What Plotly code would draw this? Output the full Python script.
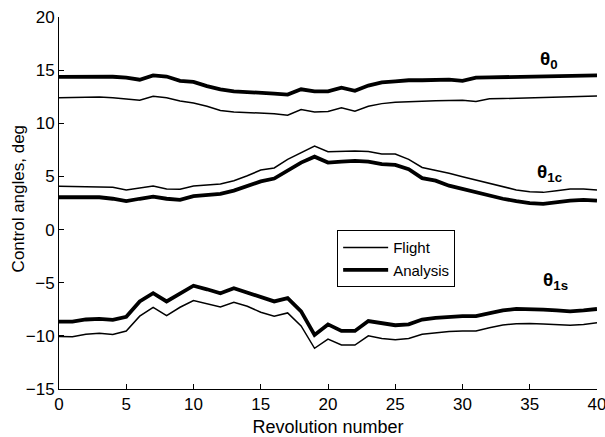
import plotly.graph_objects as go

rev = list(range(41))

theta0_flight = [12.41, 12.43, 12.46, 12.48, 12.4, 12.3, 12.16, 12.54, 12.4, 12.1, 11.9, 11.6, 11.2, 11.07,
                 11.03, 11.0, 10.9, 10.75, 11.3, 11.07, 11.1, 11.45, 11.13, 11.6, 11.85, 11.97, 12.03, 12.1,
                 12.12, 12.14, 12.16, 12.04, 12.3, 12.33, 12.36, 12.4, 12.44, 12.48, 12.51, 12.54, 12.57]
theta0_analysis = [14.36, 14.37, 14.38, 14.4, 14.38, 14.3, 14.1, 14.5, 14.4, 14.0, 13.9, 13.5, 13.2, 13.0,
                   12.95, 12.9, 12.8, 12.7, 13.2, 13.0, 13.0, 13.35, 13.05, 13.55, 13.85, 13.95, 14.05, 14.05,
                   14.05, 14.1, 14.0, 14.3, 14.32, 14.35, 14.37, 14.38, 14.4, 14.43, 14.45, 14.47, 14.5]

theta1c_flight = [4.07, 4.05, 4.05, 4.07, 3.98, 3.73, 3.9, 4.1, 3.82, 3.79, 4.1, 4.22, 4.28, 4.6,
                  5.06, 5.6, 5.8, 6.6, 7.2, 7.86, 7.33, 7.4, 7.4, 7.35, 7.1, 7.1, 6.6, 5.84,
                  5.6, 5.3, 4.97, 4.66, 4.28, 3.98, 3.73, 3.57, 3.5, 3.66, 3.82, 3.82, 3.73]
theta1c_analysis = [3.04, 3.03, 3.03, 3.04, 2.9, 2.67, 2.9, 3.1, 2.9, 2.8, 3.14, 3.23, 3.35, 3.66,
                    4.13, 4.53, 4.8, 5.6, 6.3, 6.86, 6.3, 6.4, 6.46, 6.4, 6.15, 6.09, 5.68, 4.84,
                    4.6, 4.13, 3.82, 3.45, 3.14, 2.9, 2.67, 2.48, 2.42, 2.58, 2.73, 2.8, 2.73]

theta1s_flight = [-10.06, -10.09, -9.85, -9.75, -9.88, -9.54, -8.15, -7.31, -8.09, -7.31, -6.67, -6.98, -7.28,
                  -6.85, -7.22, -7.78, -8.15, -7.84, -9.07, -11.17, -10.31, -10.86, -10.86, -10.0, -10.25,
                  -10.37, -10.25, -9.85, -9.69, -9.6, -9.54, -9.54, -9.23, -8.98, -8.86, -8.83, -8.89,
                  -8.95, -9.0, -8.92, -8.77]
theta1s_analysis = [-8.67, -8.67, -8.46, -8.4, -8.5, -8.2, -6.76, -5.99, -6.76, -5.99, -5.28, -5.62, -5.99,
                    -5.52, -5.93, -6.36, -6.76, -6.45, -7.69, -9.91, -8.92, -9.54, -9.54, -8.61, -8.83,
                    -9.0, -8.92, -8.46, -8.3, -8.2, -8.15, -8.15, -7.84, -7.6, -7.47, -7.47, -7.53,
                    -7.6, -7.69, -7.6, -7.47]

x_ticks = [0, 5, 10, 15, 20, 25, 30, 35, 40]
y_ticks = [-15, -10, -5, 0, 5, 10, 15, 20]

labels = [("θ<sub>0</sub>", 36.4, 16.0), ("θ<sub>1c</sub>", 36.5, 5.3), ("θ<sub>1s</sub>", 36.9, -4.8)]

x_title = "Revolution number"
y_title = "Control angles, deg"

FONT = "Liberation Sans, Arial, sans-serif"

fig = go.Figure()
groups = [(theta0_flight, theta0_analysis), (theta1c_flight, theta1c_analysis), (theta1s_flight, theta1s_analysis)]
for i, (fl, an) in enumerate(groups):
    fig.add_trace(go.Scatter(x=rev, y=fl, mode="lines", name="Flight", legendgroup="Flight",
                             showlegend=(i == 0), line=dict(color="black", width=1.5)))
    fig.add_trace(go.Scatter(x=rev, y=an, mode="lines", name="Analysis", legendgroup="Analysis",
                             showlegend=(i == 0), line=dict(color="black", width=3.8)))

for text, x, y in labels:
    fig.add_annotation(x=x, y=y, text="<b>" + text + "</b>", showarrow=False, xanchor="center", yanchor="middle",
                       font=dict(size=19, color="black", family=FONT))

fig.add_annotation(xref="paper", yref="paper", x=-0.076, y=0.51, text=y_title, textangle=-90,
                   showarrow=False, xanchor="center", yanchor="middle",
                   font=dict(size=17, color="black", family=FONT))

axis_common = dict(showgrid=False, zeroline=False, showline=True, linecolor="black", linewidth=1,
                   ticks="inside", ticklen=5, tickcolor="black", mirror=False, automargin=False,
                   tickfont=dict(size=17, color="black"), ticklabeloverflow="allow")

fig.update_layout(
    width=605, height=437,
    margin=dict(l=59, r=8, t=17, b=48),
    paper_bgcolor="white", plot_bgcolor="white",
    font=dict(family=FONT, color="black"),
    xaxis=dict(range=[0, 40], tickvals=x_ticks, title=dict(text=x_title, font=dict(size=18)),
               **axis_common),
    yaxis=dict(range=[-15, 20], tickvals=y_ticks, **axis_common),
    legend=dict(x=0.517, y=0.427, xanchor="left", yanchor="top", bgcolor="white",
                bordercolor="black", borderwidth=1, font=dict(size=15, color="black"),
                tracegroupgap=0, itemwidth=45),
)

fig.write_html("out.html", config={"displayModeBar": False},
               post_script="document.body.style.margin='0';")
